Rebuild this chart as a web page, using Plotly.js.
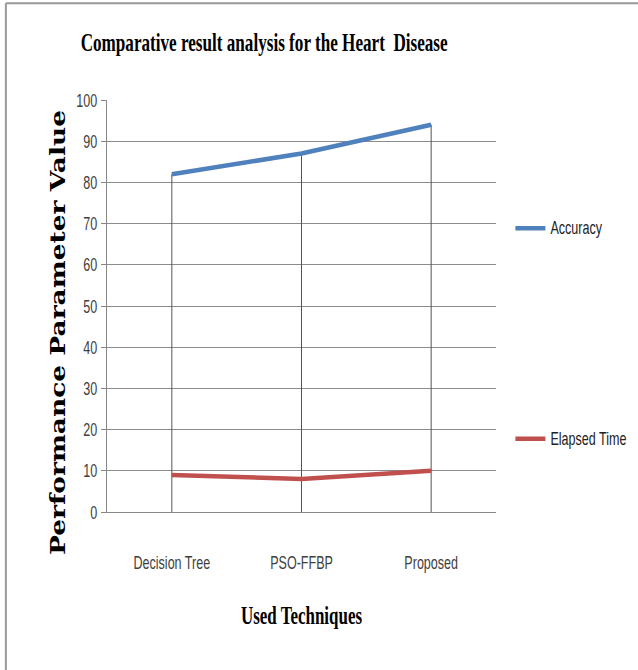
<!DOCTYPE html>
<html><head><meta charset="utf-8">
<script src="https://cdn.plot.ly/plotly-3.0.1.min.js"></script>
<style>body{margin:0;background:#fff}</style></head>
<body>
<div id="chart" style="width:638px;height:670px"></div>
<script>
const techniques = ["Decision Tree", "PSO-FFBP", "Proposed"];
const accuracy = [82, 87, 94];
const elapsedTime = [9, 8, 10];
const yTicks = [0, 10, 20, 30, 40, 50, 60, 70, 80, 90, 100];

// drop lines from axis up to the highest point of each category
const dropX = [], dropY = [];
techniques.forEach((t, i) => {
  dropX.push(t, t, null);
  dropY.push(0, Math.max(accuracy[i], elapsedTime[i]), null);
});

const sans = "Liberation Sans, Arial, sans-serif";
const serif = "Liberation Serif, Times New Roman, serif";

const traces = [
  {x: dropX, y: dropY, mode: "lines", line: {color: "#555555", width: 1},
   showlegend: false, hoverinfo: "skip"},
  {x: techniques, y: accuracy, name: "Accuracy", mode: "lines",
   line: {color: "#4F81BD", width: 4.5}, legendgroup: "acc"},
  {x: techniques, y: elapsedTime, name: "Elapsed Time", mode: "lines",
   line: {color: "#C0504D", width: 4.5}, legendgroup: "time"}
];

const layout = {
  width: 638, height: 670,
  margin: {l: 107, r: 142, t: 100, b: 158, autoexpand: false},
  paper_bgcolor: "#fff", plot_bgcolor: "#fff",
  showlegend: true,
  title: {text: "Comparative result analysis for the Heart  Disease",
    x: 0.414, xanchor: "center", y: 0.937, yanchor: "middle",
    font: {family: serif, size: 26, weight: "bold", color: "#000"}},
  xaxis: {type: "category", range: [-0.5, 2.5], showgrid: false, automargin: false,
    showline: true, linecolor: "#888", linewidth: 1, ticks: "", zeroline: false,
    ticklabelstandoff: 33,
    tickfont: {family: sans, size: 19, color: "#404040"},
    title: {text: "Used Techniques", standoff: 34,
      font: {family: serif, size: 26, weight: "bold", color: "#000"}}},
  yaxis: {range: [0, 100], tickvals: yTicks, showgrid: true, gridcolor: "#8c8c8c", gridwidth: 1,
    automargin: false,
    showline: true, linecolor: "#888", linewidth: 1, ticks: "outside", ticklen: 5, tickcolor: "#888",
    zeroline: false, tickfont: {family: sans, size: 19, color: "#404040"}},
  annotations: [{text: "Performance Parameter Value", textangle: -90,
    xref: "paper", yref: "paper", x: -0.1285, y: 0.434, xanchor: "center", yanchor: "middle",
    showarrow: false,
    font: {family: "DejaVu Serif, serif", size: 21, weight: "bold", color: "#000"}}],
  legend: {x: 1.037, xanchor: "left", y: 0.728, yanchor: "top", bgcolor: "rgba(0,0,0,0)",
    tracegroupgap: 188,
    font: {family: sans, size: 15, color: "#222"}},
  shapes: [
    {type: "line", xref: "paper", yref: "paper", x0: -0.26, x1: -0.26, y0: -0.39, y1: 1.235,
      line: {color: "#999", width: 2}},
    {type: "line", xref: "paper", yref: "paper", x0: -0.26, x1: 1.37, y0: 1.235, y1: 1.235,
      line: {color: "#999", width: 2}}
  ]
};

function condense() {
  const fit = (el, len) => { if (el) { el.setAttribute("textLength", len); el.setAttribute("lengthAdjust", "spacingAndGlyphs"); } };
  const squeeze = (sel, k, size) => document.querySelectorAll(sel).forEach(el => {
    if (size) el.style.fontSize = size + "px";
    el.removeAttribute("textLength");
    fit(el, el.getComputedTextLength() * k);
  });
  fit(document.querySelector(".gtitle"), 367);
  fit(document.querySelector(".xtitle"), 121);
  fit(document.querySelector(".annotation-text"), 445);
  squeeze(".xtick text", 0.66);
  squeeze(".ytick text", 0.66);
  squeeze(".legendtext", 0.66, 19);
}

const gd = document.getElementById("chart");
Plotly.newPlot(gd, traces, layout, {displayModeBar: false, staticPlot: true}).then(() => {
  condense();
  gd.on("plotly_afterplot", condense);
  setTimeout(condense, 200);
});
</script>
</body></html>
